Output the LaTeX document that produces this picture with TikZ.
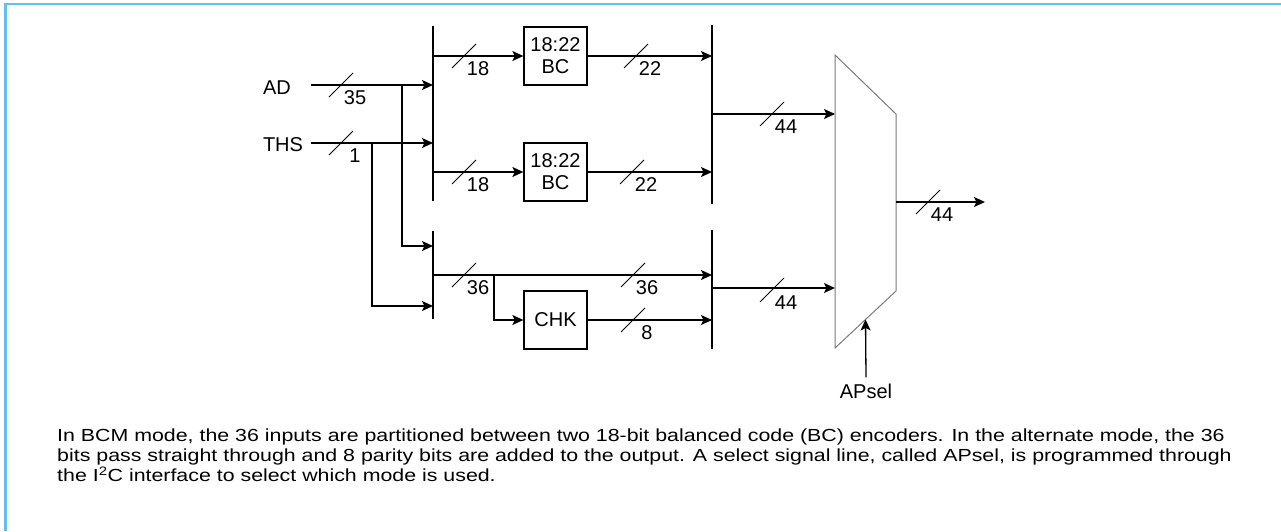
\documentclass[tikz,border=0pt]{standalone}
\usepackage{fontspec}
\setmainfont{Liberation Sans}
\usepackage{tikz}
\usetikzlibrary{arrows.meta, calc}
\definecolor{frameblue}{HTML}{64BEF5}
\definecolor{muxgray}{HTML}{7A7A7A}
\tikzset{
  wire/.style={line width=1.3pt, draw=black},
  sig/.style={wire, -{Stealth[length=11pt, width=10pt, inset=2.5pt]}},
  bus/.style={line width=1.4pt},
  slash/.style={line width=0.8pt},
  lbl/.style={font=\fontsize{20}{23}\selectfont, inner sep=0pt},
  blk/.style={draw, line width=1.3pt, minimum width=63pt, minimum height=58pt,
              align=center, inner sep=0pt, font=\fontsize{20}{22}\selectfont},
  muxline/.style={draw=muxgray, line width=1pt},
  caption/.style={font=\fontsize{17.5}{20}\selectfont, align=left, inner sep=0pt,
                  xscale=1.22},
}
% width mark on a bus: slash + number
\newcommand{\wmark}[3]{%
  \draw[slash] (#1) ++(-12,12) -- ++(24,-24);
  \node[lbl] (#2) at ($(#1)+(14,13)$) {#3};
}

\begin{document}
\begin{tikzpicture}[x=1pt, y=-1pt]
  \useasboundingbox (0,0) rectangle (1281,531);
  \draw[frameblue, line width=2.5pt] (5.5,531) -- (5.5,4) -- (1281,4);
  % buses
  \coordinate (busAtop) at (433,26);  \coordinate (busAbot) at (433,201);
  \coordinate (busBtop) at (433,231); \coordinate (busBbot) at (433,319);
  \coordinate (busCtop) at (712,25);  \coordinate (busCbot) at (712,204);
  \coordinate (busDtop) at (712,230); \coordinate (busDbot) at (712,349);
  \draw[bus] (busAtop) -- (busAbot);
  \draw[bus] (busBtop) -- (busBbot);
  \draw[bus] (busCtop) -- (busCbot);
  \draw[bus] (busDtop) -- (busDbot);
  % inputs
  \node[lbl] (ad) at (277,88) {AD};
  \node[lbl] (ths) at (283,145) {THS};
  \coordinate (adin) at (311,85);
  \coordinate (thsin) at (311,143);
  \coordinate (adtap) at (402,85);
  \coordinate (thstap) at (372,143);
  \draw[sig] (adin) -- (adin -| busAtop);
  \draw[sig] (thsin) -- (thsin -| busAtop);
  \draw[sig] (adtap) |- ($(busBtop)+(0,15)$);
  \draw[sig] (thstap) |- ($(busBbot)+(0,-13)$);
  \wmark{341,85}{wad}{35}
  \wmark{341,143}{wths}{1}
  % encoders
  \node[blk] (bc1) at (555.5,56) {18:22\\BC};
  \node[blk] (bc2) at (555.5,172) {18:22\\BC};
  \node[blk] (chk) at (555.5,320) {CHK};
  \draw[sig] (bc1.west -| busAtop) -- (bc1.west);
  \draw[sig] (bc2.west -| busAtop) -- (bc2.west);
  \draw[sig] (bc1.east) -- (bc1.east -| busCtop);
  \draw[sig] (bc2.east) -- (bc2.east -| busCtop);
  \wmark{464,56}{w18a}{18}
  \wmark{464,172}{w18b}{18}
  \wmark{636,56}{w22a}{22}
  \wmark{632,172}{w22b}{22}
  % pass-through path
  \coordinate (tap36) at (494,275);
  \draw[wire] (tap36 -| busBtop) -- (tap36);
  \draw[sig] (tap36) -- (tap36 -| busDtop);
  \draw[sig] (tap36) |- (chk.west);
  \draw[sig] (chk.east) -- (chk.east -| busDtop);
  \wmark{464,275}{w36a}{36}
  \wmark{633,275}{w36b}{36}
  \wmark{633,320}{w8}{8}
  % mux
  \coordinate (muxtl) at (835,55);  \coordinate (muxtr) at (896,114);
  \coordinate (muxbr) at (896,291); \coordinate (muxbl) at (835,348);
  \draw[muxline] (muxtl) -- (muxtr) -- (muxbr) -- (muxbl) -- cycle;
  \coordinate (muxin1) at (835,114);
  \coordinate (muxin2) at (835,288);
  \draw[sig] (muxin1 -| busCtop) -- (muxin1);
  \draw[sig] (muxin2 -| busDtop) -- (muxin2);
  \wmark{772,114}{w44a}{44}
  \wmark{772,290}{w44b}{44}
  \coordinate (muxout) at (896,202);
  \coordinate (yout) at (985,202);
  \draw[sig] (muxout) -- (yout);
  \wmark{928,202}{w44c}{44}
  \node[lbl] (apsel) at (866,391) {APsel};
  \draw[sig] ($(apsel.north)+(0,-6)$) -- ($(muxbl)!0.5!(muxbr)$);
  % caption
  \node[caption, anchor=north west] (note) at (57,429)
    {In BCM mode, the 36 inputs are partitioned between two 18-bit balanced code (BC) encoders. In the alternate mode, the 36\\
     bits pass straight through and 8 parity bits are added to the output. A select signal line, called APsel, is programmed through\\
     the I\textsuperscript{2}C interface to select which mode is used.};
\end{tikzpicture}
\end{document}
